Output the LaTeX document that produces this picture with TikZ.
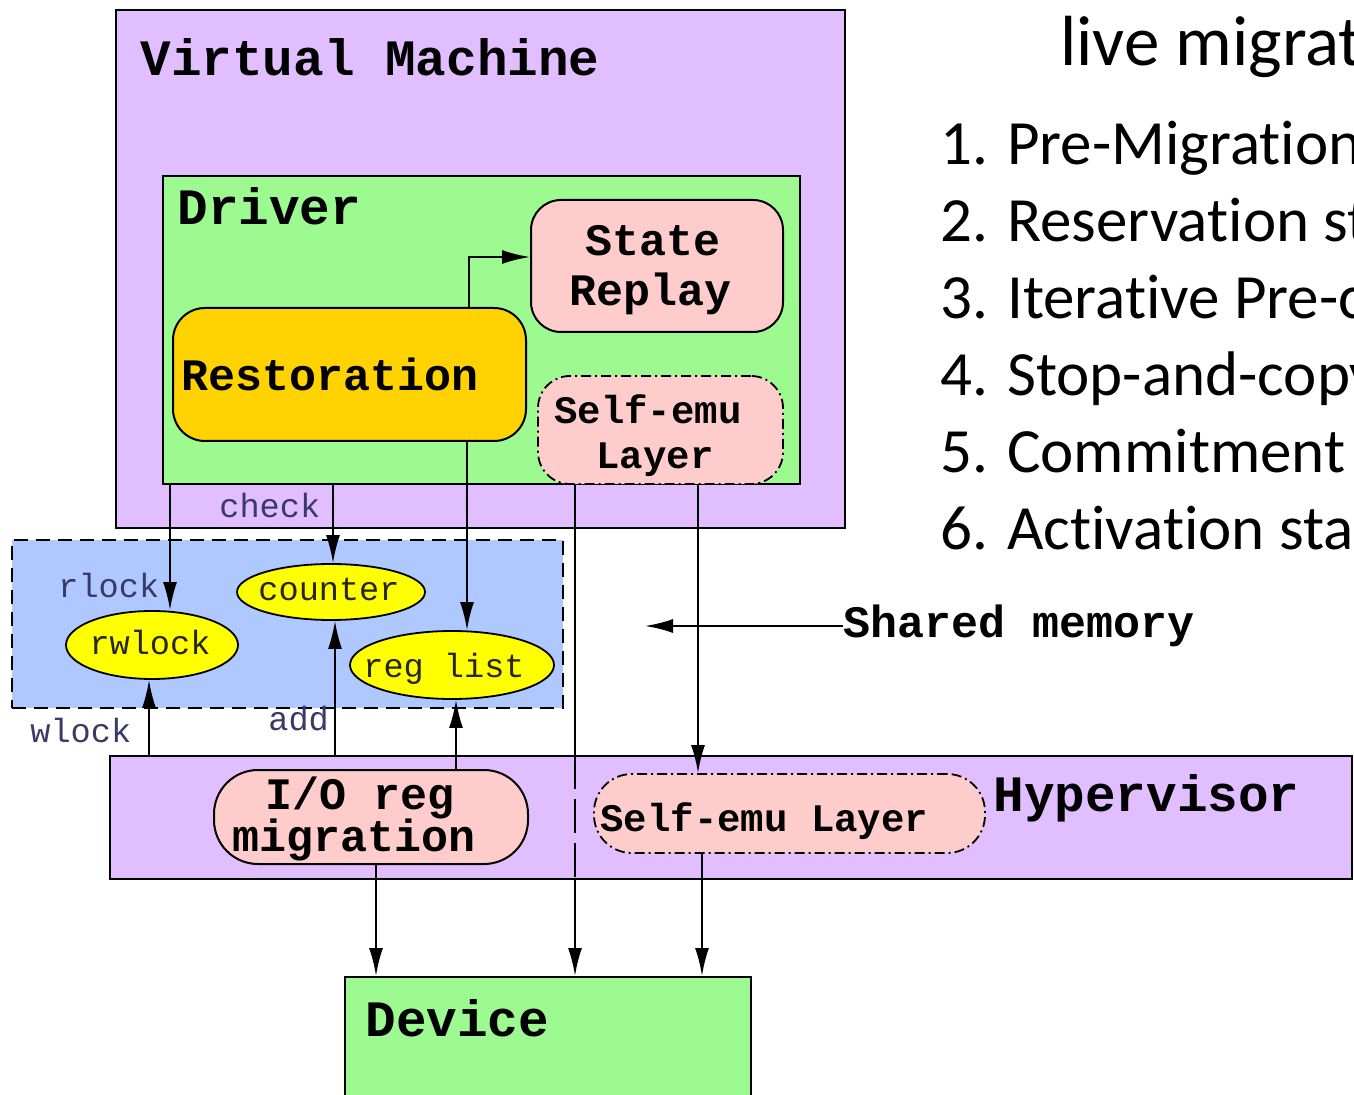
\documentclass[tikz,border=0pt]{standalone}
\usepackage{fontspec}
\setmainfont[RawFeature={-liga,-clig,-calt,-dlig}]{Carlito}
\newfontfamily\codefont{Liberation Mono}
\usetikzlibrary{arrows.meta,fit,shapes.geometric}

\definecolor{vmpurple}{HTML}{E0BEFF}
\definecolor{drvgreen}{HTML}{9CFA90}
\definecolor{boxpink}{HTML}{FFCCCC}
\definecolor{restgold}{HTML}{FFD200}
\definecolor{shmblue}{HTML}{AFC8FF}
\definecolor{lockyellow}{HTML}{FFFF00}
\definecolor{tagblue}{HTML}{3A3A6A}
\definecolor{inktext}{HTML}{262612}

% keeps "t" and "i" as separate glyphs
\newcommand{\tisep}{t\kern0pt i}

\begin{document}
\begin{tikzpicture}[x=0.5pt,y=-0.5pt,
  frame/.style={draw=black, line width=1pt, inner sep=0pt},
  pillbox/.style={frame, rounded corners=15pt, fill=boxpink},
  emubox/.style={draw=black, line width=0.9pt, dash pattern=on 5pt off 2pt on 1pt off 2pt,
    inner sep=0pt, fill=boxpink, rounded corners=16pt},
  lockell/.style={ellipse, draw=black, line width=0.9pt, fill=lockyellow, inner sep=0pt},
  bigtxt/.style={font=\codefont\bfseries\fontsize{25.5}{28}\selectfont, inner sep=0pt},
  midtxt/.style={font=\codefont\bfseries\fontsize{22.5}{26}\selectfont, inner sep=0pt},
  smltxt/.style={font=\codefont\bfseries\fontsize{19.5}{24}\selectfont, inner sep=0pt},
  tagtxt/.style={font=\codefont\fontsize{16.8}{18}\selectfont, inner sep=0pt, text=tagblue},
  elltxt/.style={font=\codefont\fontsize{16.8}{18}\selectfont, inner sep=0pt, text=inktext},
  slide/.style={font=\fontsize{31.5}{38}\selectfont, inner sep=0pt, anchor=base west},
  arr/.style={line width=1.1pt, -{Latex[length=14pt,width=7pt]}},
  wire/.style={line width=1.1pt},
]
\useasboundingbox (0,0) rectangle (1354,1095);
\clip (0,0) rectangle (1354,1095);
\fill[white] (0,0) rectangle (1354,1095);

% ---- virtual machine and driver ----
\node[frame, fill=vmpurple, fit={(116,10) (845,528)}] (vm) {};
\node[bigtxt, anchor=base west] (vmlabel) at (140,76) {Virtual Machine};
\node[frame, fill=drvgreen, fit={(163,176) (800,484)}] (drv) {};
\node[bigtxt, anchor=base west] (drvlabel) at (177,225) {Driver};

\node[pillbox, fit={(531,200) (783,332)}] (sr) {};
\node[midtxt, anchor=base] (srtop) at (653,256) {State};
\node[midtxt, anchor=base] (srbot) at (651,306) {Replay};

\node[frame, fill=restgold, rounded corners=16pt, fit={(173,308) (526,441)}] (rest) {};
\node[midtxt, anchor=base west] (restlabel) at (181,391) {Restoration};

\node[emubox, fit={(538,376) (783,484)}] (sed) {};
\node[smltxt, anchor=base] (sedtop) at (648,424) {Self-emu};
\node[smltxt, anchor=base] (sedbot) at (655,469) {Layer};

% ---- shared memory ----
\node[draw=black, line width=1pt, dash pattern=on 7pt off 4pt, fill=shmblue, inner sep=0pt,
  fit={(12,540) (563,708)}] (shm) {};
\node[lockell, minimum width=94pt, minimum height=28pt] (cnt) at (331,592) {};
\node[elltxt, anchor=base] (cntlabel) at (329,601) {counter};
\node[lockell, minimum width=86pt, minimum height=34pt] (rw) at (152,645) {};
\node[elltxt, anchor=base] (rwlabel) at (150,655) {rwlock};
\node[lockell, minimum width=102pt, minimum height=34pt] (rl) at (452,665) {};
\node[elltxt, anchor=base] (rllabel) at (444,677) {reg list};

\node[tagtxt, anchor=base west] (check) at (219,518) {check};
\node[tagtxt, anchor=base west] (rlock) at (58,598) {rlock};
\node[tagtxt, anchor=base west] (wlock) at (30,742) {wlock};
\node[tagtxt, anchor=base west] (add) at (268,731) {add};

% ---- hypervisor ----
\node[frame, fill=vmpurple, fit={(110,756) (1352,879)}] (hyp) {};
\node[bigtxt, anchor=base west] (hyplabel) at (993,811) {Hypervisor};
\node[pillbox, rounded corners=22pt, fit={(214,770) (528,864)}] (io) {};
\node[midtxt, anchor=base] (iotop) at (360,809) {I/O reg};
\node[midtxt, anchor=base] (iobot) at (354,851) {migration};
\node[emubox, rounded corners=19pt, fit={(594,774) (985,853)}] (seh) {};
\node[smltxt, anchor=base west] (sehlabel) at (600,831) {Self-emu Layer};

% ---- device ----
\node[frame, fill=drvgreen, fit={(345,977) (751,1130)}] (dev) {};
\node[bigtxt, anchor=base west] (devlabel) at (365,1036) {Device};

% ---- shared memory pointer ----
\node[midtxt, anchor=base west] (shmlabel) at (843,638) {Shared memory};
\coordinate (shmtip) at (645,626);
\draw[arr] (shmlabel.west |- shmtip) -- (shmtip);

% ---- columns of the connectors ----
\coordinate (xrl) at (170,0);
\coordinate (xck) at (333,0);
\coordinate (xrs) at (467,0);
\coordinate (xsr) at (469,257);
\coordinate (xwl) at (149,0);
\coordinate (xad) at (335,0);
\coordinate (xio) at (456,0);
\coordinate (xse) at (575,0);
\coordinate (xsd) at (698,0);
\coordinate (xdv) at (376,0);
\coordinate (xhd) at (702,0);

% driver side
\draw[arr] (xsr |- rest.north) |- (xsr -| sr.west);
\draw[arr] (drv.south -| xrl) -- (rw.north -| xrl);
\draw[arr] (drv.south -| xck) -- (cnt.north -| xck);
\draw[arr] (rest.south -| xrs) -- (rl.north -| xrs);

% hypervisor side
\draw[arr] (hyp.north -| xwl) -- (rw.south -| xwl);
\draw[arr] (hyp.north -| xad) -- (cnt.south -| xad);
\draw[arr] (io.north -| xio) -- (rl.south -| xio);

% self-emulation paths
\draw[wire] (sed.south -| xse) -- (hyp.north -| xse);
\draw[wire, dash pattern=on 17pt off 5pt] (hyp.north -| xse) -- (hyp.south -| xse);
\draw[arr] (hyp.south -| xse) -- (dev.north -| xse);
\draw[arr] (sed.south -| xsd) -- (seh.north -| xsd);

% down to the device
\draw[arr] (io.south -| xdv) -- (dev.north -| xdv);
\draw[arr] (seh.south -| xhd) -- (dev.north -| xhd);

% ---- stage list ----
\node[slide, font=\fontsize{35.5}{42}\selectfont] (title) at (1060,66) {live migra\tisep on};
\node[slide] (s1) at (940,165) {1. Pre-Migra\tisep on};
\node[slide] (s2) at (940,242) {2. Reserva\tisep on stage};
\node[slide] (s3) at (940,319) {3. Itera\tisep ve Pre-copy};
\node[slide] (s4) at (940,396) {4. Stop-and-copy};
\node[slide] (s5) at (940,473) {5. Commitment stage};
\node[slide] (s6) at (940,550) {6. Ac\tisep va\tisep on stage};
\end{tikzpicture}
\end{document}
